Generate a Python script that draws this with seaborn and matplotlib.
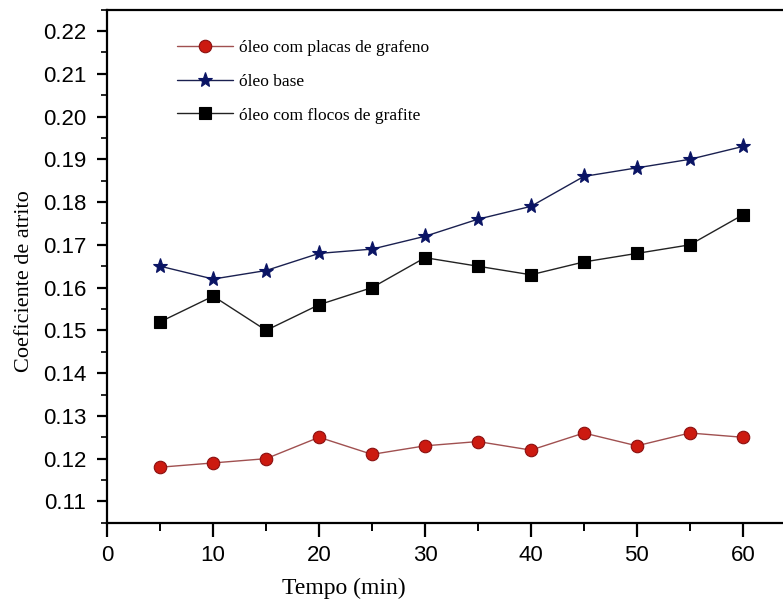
import pandas as pd
import seaborn as sns
import matplotlib.pyplot as plt
from matplotlib.ticker import MultipleLocator

# Data
tempo = [5, 10, 15, 20, 25, 30, 35, 40, 45, 50, 55, 60]
grafeno = [0.118, 0.119, 0.120, 0.125, 0.121, 0.123, 0.124, 0.122, 0.126, 0.123, 0.126, 0.125]
base = [0.165, 0.162, 0.164, 0.168, 0.169, 0.172, 0.176, 0.179, 0.186, 0.188, 0.190, 0.193]
grafite = [0.152, 0.158, 0.150, 0.156, 0.160, 0.167, 0.165, 0.163, 0.166, 0.168, 0.170, 0.177]

labels = ['óleo com placas de grafeno', 'óleo base', 'óleo com flocos de grafite']

df = pd.DataFrame({
    'tempo': tempo * 3,
    'coef': grafeno + base + grafite,
    'serie': [labels[0]] * 12 + [labels[1]] * 12 + [labels[2]] * 12,
})

sns.set_style('ticks', {'axes.edgecolor': 'black', 'xtick.color': 'black',
                        'ytick.color': 'black', 'text.color': 'black',
                        'axes.labelcolor': 'black'})

fig = plt.figure(figsize=(7.83, 6.03), dpi=100)
ax = fig.add_axes([0.137, 0.133, 0.863, 0.851])

styles = {
    labels[0]: dict(color='#a05050', marker='o', markersize=9, markerfacecolor='#cc1a10', markeredgecolor='#8a1010'),
    labels[1]: dict(color='#1a2050', marker='*', markersize=11, markerfacecolor='#0a1464', markeredgecolor='#0a1464'),
    labels[2]: dict(color='#222222', marker='s', markersize=8, markerfacecolor='black', markeredgecolor='black'),
}

for name in labels:
    sub = df[df['serie'] == name]
    st = styles[name]
    sns.lineplot(data=sub, x='tempo', y='coef', ax=ax, label=name,
                 color=st['color'], marker=st['marker'], markersize=st['markersize'],
                 markerfacecolor=st['markerfacecolor'], markeredgecolor=st['markeredgecolor'],
                 markeredgewidth=0.8, linewidth=1.0)

ax.set_xlim(0, 63.8)
ax.set_ylim(0.105, 0.225)
ax.xaxis.set_major_locator(MultipleLocator(10))
ax.xaxis.set_minor_locator(MultipleLocator(5))
ax.yaxis.set_major_locator(MultipleLocator(0.01))
ax.yaxis.set_minor_locator(MultipleLocator(0.005))
ax.yaxis.set_major_formatter(plt.FormatStrFormatter('%.2f'))

ax.spines['right'].set_visible(False)
for s in ['left', 'bottom', 'top']:
    ax.spines[s].set_linewidth(1.6)
ax.tick_params(which='major', direction='out', width=1.6, labelsize=16, labelcolor='black')
ax.tick_params(axis='x', which='major', length=10, pad=6)
ax.tick_params(axis='y', which='major', length=7, pad=8)
ax.tick_params(axis='x', which='minor', direction='out', length=6, width=1.4)
ax.tick_params(axis='y', which='minor', direction='out', length=4, width=1.2)
ax.tick_params(top=False, right=False, which='both')
for t in ax.get_xticklabels() + ax.get_yticklabels():
    t.set_fontfamily('Liberation Sans')

ax.set_xlabel('Tempo (min)', fontfamily='Liberation Serif', fontsize=17)
ax.set_ylabel('Coeficiente de atrito', fontfamily='Liberation Serif', fontsize=16)
ax.xaxis.set_label_coords(0.35, -0.108)
ax.yaxis.set_label_coords(-0.108, 0.47)

leg = ax.legend(loc='upper left', bbox_to_anchor=(0.08, 0.972), frameon=False,
                prop={'family': 'Liberation Serif', 'size': 12.5},
                handlelength=3.2, labelspacing=1.02, handletextpad=0.4)

fig.savefig('out.png', dpi=100)
